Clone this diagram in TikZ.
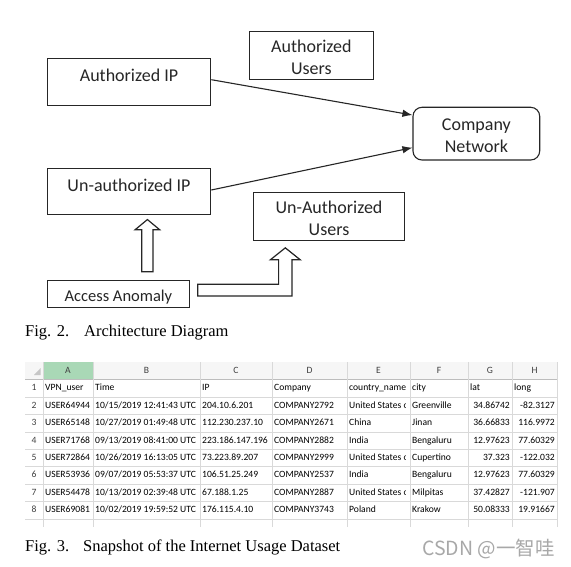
\documentclass[tikz,border=0pt]{standalone}
\usepackage{fontspec}
\setmainfont{Liberation Serif}
\newfontfamily\calib{Carlito}
\newfontfamily\wmfont{Noto Sans CJK SC}
\usetikzlibrary{arrows.meta,calc}
\definecolor{boxcol}{HTML}{262626}
\definecolor{gridc}{HTML}{D9D9D9}
\definecolor{gridd}{HTML}{BDBDBD}
\definecolor{hdrgreen}{HTML}{A9D8B6}
\definecolor{hdrbg}{HTML}{F6F6F6}
\definecolor{hdrtext}{HTML}{404040}
\definecolor{wmark}{HTML}{A8A8A8}
\newcommand{\diagfnt}{\calib\fontsize{18}{21.5}\selectfont}
\newcommand{\anomfnt}{\calib\fontsize{16.5}{19}\selectfont}
\newcommand{\sheetfnt}{\calib\fontsize{9.6}{11}\selectfont}
\newcommand{\xlrow}[9]{%
  \pgfmathsetmacro{\ry}{388.3+(#1-1)*17.43}%
  \node[colhd] (n#1) at (34,\ry) {#1};
  \node[cell] (a#1) at (45,\ry) {#2};
  \node[cell] (b#1) at (95,\ry) {#3};
  \node[cell] (c#1) at (202,\ry) {#4};
  \node[cell] (d#1) at (274,\ry) {#5};
  \begin{scope}
    \clip (347,\ry-8) rectangle (405.8,\ry+8);
    \node[cell] (e#1) at (349,\ry) {#6};
  \end{scope}
  \node[cell] (f#1) at (412,\ry) {#7};
  \node[num] (g#1) at (510,\ry) {#8};
  \node[num] (h#1) at (555,\ry) {#9};
}
\begin{document}
\begin{tikzpicture}[x=1pt,y=-1pt,
  box/.style={draw=boxcol, line width=1.1pt, fill=white, inner sep=0pt},
  lbl/.style={font=\diagfnt, text=black!85, inner sep=0pt, align=center},
  conn/.style={draw=boxcol, line width=1.1pt, -{Latex[length=10pt,width=7.5pt]}},
  hollow/.style={draw=boxcol, line width=1.2pt, fill=white, line join=miter},
  cell/.style={font=\sheetfnt, anchor=west, inner sep=0pt, text height=6.5pt, text depth=1.5pt},
  num/.style={cell, anchor=east},
  colhd/.style={font=\sheetfnt, text=hdrtext, inner sep=0pt, text height=6.5pt, text depth=1.5pt},
  captionstyle/.style={font=\fontsize{16.5}{20}\selectfont, anchor=base west, inner sep=0pt},
  gridline/.style={draw=gridc, line width=0.6pt}
]
\fill[white] (0,0) rectangle (571,567);
\useasboundingbox (0,0) rectangle (571,567);

% ---------------- diagram boxes
\node[box, minimum width=163.6pt, minimum height=47.4pt] (aip) at (129,82) {};
\node[box, minimum width=124pt, minimum height=47.6pt] (au) at (311.4,55.5) {};
\node[box, minimum width=126.7pt, minimum height=52.7pt, rounded corners=9pt] (cn) at (476.35,133.65) {};
\node[box, minimum width=163.6pt, minimum height=46pt] (uip) at (129,191.3) {};
\node[box, minimum width=151.5pt, minimum height=48.4pt] (uau) at (329,216.5) {};
\node[box, minimum width=142.3pt, minimum height=26.6pt] (aa) at (118.35,294) {};

\node[lbl] (taip) at (129,75.7) {Authorized IP};
\node[lbl] (tau) at (311.4,57.5) {Authorized\\Users};
\node[lbl] (tcn) at (476.4,135.5) {Company\\Network};
\node[lbl] (tuip) at (129,185) {Un-authorized IP};
\node[lbl] (tuau) at (329,218.5) {Un-Authorized\\Users};
\node[lbl, font=\anomfnt] (taa) at (118.4,297) {Access Anomaly};

% ---------------- connectors
\draw[conn] ([yshift=2.3pt]aip.east) -- ([yshift=18.6pt]cn.west);
\draw[conn] ([yshift=1.3pt]uip.east) -- ([yshift=-14pt]cn.west);

% hollow up arrow
\coordinate (ut) at ($(uip.south)+(18.4,4.7)$);
\coordinate (ub) at ($(aa.north)+(29.05,-8.4)$);
\draw[hollow] ($(ub)+(-5.6,0)$) -- ($(ut)+(-5.6,10.3)$) -- ($(ut)+(-12.4,10.3)$) -- (ut)
  -- ($(ut)+(12.4,10.3)$) -- ($(ut)+(5.6,10.3)$) -- ($(ub)+(5.6,0)$) -- cycle;

% hollow bent arrow
\coordinate (bs) at ($(aa.east)+(7.7,-3.85)$);
\coordinate (bt) at ($(uau.south)+(-43.7,6.6)$);
\draw[hollow] ($(bs)+(0,-5.85)$) -- ($(bt|-bs)+(-6.7,-5.85)$) -- ($(bt)+(-6.7,12)$)
  -- ($(bt)+(-15,12)$) -- (bt) -- ($(bt)+(15,12)$) -- ($(bt)+(6.7,12)$)
  -- ($(bt|-bs)+(6.7,5.85)$) -- ($(bs)+(0,5.85)$) -- cycle;

% ---------------- captions
\node[captionstyle] (fig2) at (25,336) {Fig. 2.\hspace{15pt}Architecture Diagram};
\node[captionstyle] (fig3) at (25,551) {Fig. 3.\hspace{14pt}Snapshot of the Internet Usage Dataset};

% ---------------- spreadsheet
\fill[hdrbg] (25,362) rectangle (557,379);
\fill[hdrgreen] (43,362) rectangle (93,379);
\fill[gray!45] (40.7,368) -- (40.7,375) -- (34,375) -- cycle;
\foreach \k in {1,...,8} \draw[gridline] (25,{379.6+\k*17.43}) -- (557,{379.6+\k*17.43});
\draw[draw=gridd, line width=0.7pt] (25,379) -- (557,379);
\foreach \xx in {43,93,200,272,347,410,468,512,557} \draw[gridline] (\xx,362) -- (\xx,527);

\node[colhd] (hA) at (68,370.5) {A};
\node[colhd] (hB) at (146.5,370.5) {B};
\node[colhd] (hC) at (236,370.5) {C};
\node[colhd] (hD) at (309.5,370.5) {D};
\node[colhd] (hE) at (378.5,370.5) {E};
\node[colhd] (hF) at (439,370.5) {F};
\node[colhd] (hG) at (490,370.5) {G};
\node[colhd] (hH) at (534.5,370.5) {H};

\node[colhd] (n1) at (34,388.3) {1};
\node[cell] (a1) at (45,388.3) {VPN\_user};
\node[cell] (b1) at (95,388.3) {Time};
\node[cell] (c1) at (202,388.3) {IP};
\node[cell] (d1) at (274,388.3) {Company};
\node[cell] (e1) at (349,388.3) {country\_name};
\node[cell] (f1) at (412,388.3) {city};
\node[cell] (g1) at (470,388.3) {lat};
\node[cell] (h1) at (514,388.3) {long};

\xlrow{2}{USER64944}{10/15/2019 12:41:43 UTC}{204.10.6.201}{COMPANY2792}{United States o}{Greenville}{34.86742}{-82.3127}
\xlrow{3}{USER65148}{10/27/2019 01:49:48 UTC}{112.230.237.10}{COMPANY2671}{China}{Jinan}{36.66833}{116.9972}
\xlrow{4}{USER71768}{09/13/2019 08:41:00 UTC}{223.186.147.196}{COMPANY2882}{India}{Bengaluru}{12.97623}{77.60329}
\xlrow{5}{USER72864}{10/26/2019 16:13:05 UTC}{73.223.89.207}{COMPANY2999}{United States o}{Cupertino}{37.323}{-122.032}
\xlrow{6}{USER53936}{09/07/2019 05:53:37 UTC}{106.51.25.249}{COMPANY2537}{India}{Bengaluru}{12.97623}{77.60329}
\xlrow{7}{USER54478}{10/13/2019 02:39:48 UTC}{67.188.1.25}{COMPANY2887}{United States o}{Milpitas}{37.42827}{-121.907}
\xlrow{8}{USER69081}{10/02/2019 19:59:52 UTC}{176.115.4.10}{COMPANY3743}{Poland}{Krakow}{50.08333}{19.91667}

% ---------------- watermark
\node[font=\wmfont\fontsize{19.5}{21}\selectfont, text=wmark, anchor=base west, inner sep=0pt] (wm) at (422,555.5) {CSDN @一智哇};
\end{tikzpicture}
\end{document}
